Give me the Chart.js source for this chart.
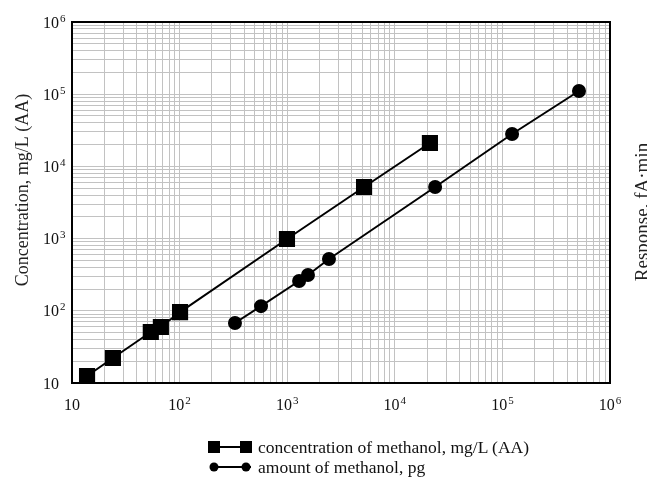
<!DOCTYPE html>
<html>
<head>
<meta charset="utf-8">
<script src="https://cdn.jsdelivr.net/npm/chart.js@4"></script>
<style>
  html, body { margin: 0; padding: 0; background: #fff; overflow: hidden; }
  #wrap { position: relative; width: 647px; height: 479px; }
  #legend { position: absolute; left: 208px; top: 437px; font-family: "Liberation Serif", serif; font-size: 17.5px; color: #111; line-height: 20px; }
  #legend div { display: flex; align-items: center; white-space: nowrap; }
  #legend svg { margin-right: 5px; }
</style>
</head>
<body>
<div id="wrap">
  <canvas id="chart" width="647" height="479"></canvas>
  <div id="legend"></div>
</div>
<script>
// --- data ---
const concX = [13.8, 24, 54, 67, 101, 995, 5180, 21200];
const concY = [12.5, 22.2, 50.8, 59.7, 96, 986, 5190, 21100];
const amountX = [327, 571, 1290, 1560, 2445, 23700, 123000, 515000];
const amountY = [67.8, 116, 259, 313, 521, 5190, 28100, 110700];
const seriesNames = ['concentration of methanol, mg/L (AA)', 'amount of methanol, pg'];
const decades = [1, 2, 3, 4, 5, 6];
const yTitle = 'Concentration, mg/L (AA)';
const rightTitle = 'Response, fA\u00b7min';

const font = 'Liberation Serif';

function logTicks() {
  const t = [];
  for (let i = 0; i < decades.length; i++) {
    const base = Math.pow(10, decades[i]);
    if (i === decades.length - 1) { t.push({ value: base }); break; }
    for (let m = 1; m <= 9; m++) t.push({ value: m * base });
  }
  return t;
}

function decadeOf(v) {
  const n = Math.log10(v);
  return Math.abs(n - Math.round(n)) < 1e-9 ? Math.round(n) : null;
}

const toPts = (xs, ys) => xs.map((x, i) => ({ x: x, y: ys[i] }));

// draws "10" with a raised exponent
function powerLabel(ctx, k, x, baseline, align) {
  ctx.font = '16px "' + font + '"';
  const wb = ctx.measureText('10').width;
  let we = 0, exp = '';
  if (k !== 1) {
    exp = String(k);
    ctx.font = '11px "' + font + '"';
    we = ctx.measureText(exp).width + 1;
  }
  const left = align === 'center' ? x - (wb + we) / 2 : x;
  ctx.font = '16px "' + font + '"';
  ctx.fillText('10', left, baseline);
  if (exp) {
    ctx.font = '11px "' + font + '"';
    ctx.fillText(exp, left + wb + 1, baseline - 6);
  }
}

const framePlugin = {
  id: 'frame',
  afterDatasetsDraw(chart) {
    const { ctx, chartArea: a } = chart;
    ctx.save();
    ctx.strokeStyle = '#000';
    ctx.lineWidth = 2;
    ctx.strokeRect(a.left, a.top, a.right - a.left, a.bottom - a.top);
    ctx.restore();
  },
  afterDraw(chart) {
    const { ctx, scales: { x, y } } = chart;
    ctx.save();
    ctx.fillStyle = '#111';
    ctx.textAlign = 'left';
    ctx.textBaseline = 'alphabetic';
    x.ticks.forEach(t => {
      const k = decadeOf(t.value);
      if (k !== null) powerLabel(ctx, k, x.getPixelForValue(t.value), 410, 'center');
    });
    y.ticks.forEach(t => {
      const k = decadeOf(t.value);
      if (k !== null) powerLabel(ctx, k, 43, y.getPixelForValue(t.value) + 5.5, 'left');
    });

    // axis titles
    ctx.fillStyle = '#222';
    ctx.textAlign = 'center';
    ctx.font = '18px "' + font + '"';
    ctx.save();
    ctx.translate(28, 190);
    ctx.rotate(-Math.PI / 2);
    ctx.fillText(yTitle, 0, 0);
    ctx.restore();

    ctx.font = '19px "' + font + '"';
    ctx.translate(648, 212);
    ctx.rotate(-Math.PI / 2);
    ctx.fillText(rightTitle, 0, 0);
    ctx.restore();
  }
};

const gridOpts = { color: '#c2c2c2', lineWidth: 1, drawTicks: false };

new Chart(document.getElementById('chart'), {
  type: 'scatter',
  data: {
    datasets: [
      {
        label: seriesNames[0],
        data: toPts(concX, concY),
        showLine: true,
        borderColor: '#000',
        backgroundColor: '#000',
        borderWidth: 2,
        pointStyle: 'rect',
        pointRadius: 10,
        pointHoverRadius: 10
      },
      {
        label: seriesNames[1],
        data: toPts(amountX, amountY),
        showLine: true,
        borderColor: '#000',
        backgroundColor: '#000',
        borderWidth: 2,
        pointStyle: 'circle',
        pointRadius: 6,
        pointHoverRadius: 6
      }
    ]
  },
  options: {
    responsive: false,
    animation: false,
    layout: { padding: { left: 0, top: 22, right: 37, bottom: 0 } },
    plugins: { legend: { display: false }, tooltip: { enabled: false } },
    scales: {
      x: {
        type: 'logarithmic',
        min: 10, max: 1e6,
        afterBuildTicks: s => { s.ticks = logTicks(); },
        afterFit: s => { s.height = 96; },
        grid: gridOpts,
        border: { display: false },
        ticks: { autoSkip: false, maxRotation: 0, callback: () => '' }
      },
      y: {
        type: 'logarithmic',
        min: 10, max: 1e6,
        afterBuildTicks: s => { s.ticks = logTicks(); },
        afterFit: s => { s.width = 72; },
        grid: gridOpts,
        border: { display: false },
        ticks: { autoSkip: false, callback: () => '' }
      }
    }
  },
  plugins: [framePlugin]
});

// legend built from the series names
const legend = document.getElementById('legend');
const markers = [
  '<svg width="45" height="14"><line x1="2" y1="7" x2="43" y2="7" stroke="#000" stroke-width="2"/><rect x="0" y="1" width="12" height="12" fill="#000"/><rect x="32" y="1" width="12" height="12" fill="#000"/></svg>',
  '<svg width="45" height="14"><line x1="2" y1="7" x2="43" y2="7" stroke="#000" stroke-width="2"/><circle cx="6" cy="7" r="4.5" fill="#000"/><circle cx="38" cy="7" r="4.5" fill="#000"/></svg>'
];
seriesNames.forEach((name, i) => {
  const row = document.createElement('div');
  row.innerHTML = markers[i] + '<span>' + name + '</span>';
  legend.appendChild(row);
});
</script>
</body>
</html>
